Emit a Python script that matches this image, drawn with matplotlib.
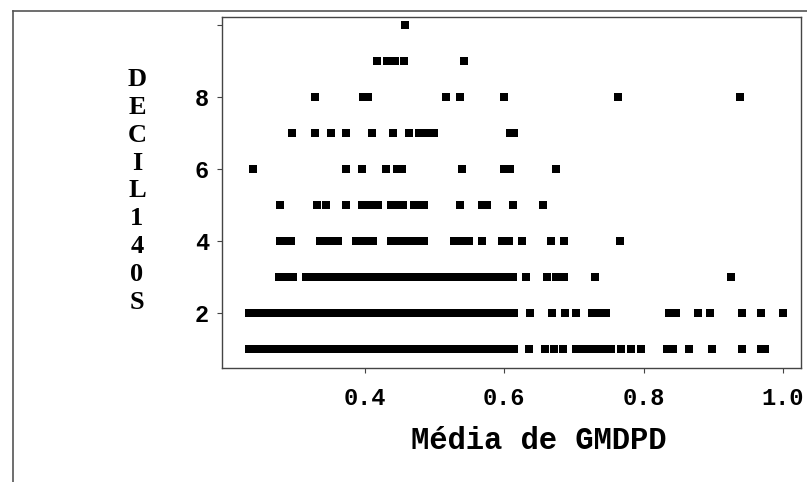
import matplotlib
matplotlib.use("Agg")
import matplotlib.pyplot as plt
from matplotlib.lines import Line2D

# DECIL140S levels against the observed GMDPD means for each level
decil_1 = [0.234, 0.244, 0.254, 0.264, 0.274, 0.284, 0.294, 0.304, 0.314, 0.324,
           0.334, 0.344, 0.354, 0.364, 0.374, 0.384, 0.394, 0.404, 0.414, 0.424,
           0.434, 0.444, 0.454, 0.464, 0.474, 0.484, 0.494, 0.504, 0.514, 0.524,
           0.534, 0.544, 0.554, 0.564, 0.574, 0.584, 0.594, 0.604, 0.614,
           0.635, 0.658, 0.672, 0.684, 0.703, 0.713, 0.723, 0.733, 0.743, 0.753,
           0.767, 0.782, 0.796, 0.833, 0.843, 0.865, 0.898, 0.942, 0.968, 0.974]
decil_2 = [0.234, 0.244, 0.254, 0.264, 0.274, 0.284, 0.294, 0.304, 0.314, 0.324,
           0.334, 0.344, 0.354, 0.364, 0.374, 0.384, 0.394, 0.404, 0.414, 0.424,
           0.434, 0.444, 0.454, 0.464, 0.474, 0.484, 0.494, 0.504, 0.514, 0.524,
           0.534, 0.544, 0.554, 0.564, 0.574, 0.584, 0.594, 0.604, 0.614,
           0.637, 0.668, 0.688, 0.703, 0.726, 0.737, 0.746, 0.836, 0.846, 0.878,
           0.896, 0.942, 0.968, 1.000]
decil_3 = [0.277, 0.288, 0.297, 0.315, 0.325, 0.335, 0.345, 0.355, 0.365, 0.375,
           0.385, 0.395, 0.405, 0.415, 0.425, 0.435, 0.445, 0.455, 0.465, 0.475,
           0.485, 0.495, 0.505, 0.515, 0.525, 0.535, 0.545, 0.555, 0.565, 0.575,
           0.585, 0.595, 0.605, 0.612, 0.631, 0.661, 0.674, 0.686, 0.731, 0.926]
decil_4 = [0.278, 0.286, 0.294, 0.335, 0.344, 0.352, 0.361, 0.387, 0.396, 0.404,
           0.412, 0.437, 0.445, 0.453, 0.461, 0.469, 0.477, 0.485, 0.528, 0.536,
           0.543, 0.549, 0.568, 0.597, 0.607, 0.625, 0.667, 0.686, 0.766]
decil_5 = [0.278, 0.331, 0.344, 0.373, 0.396, 0.405, 0.414, 0.419, 0.437, 0.446,
           0.455, 0.470, 0.478, 0.485, 0.536, 0.568, 0.576, 0.612, 0.655]
decil_6 = [0.239, 0.373, 0.396, 0.431, 0.446, 0.453, 0.540, 0.600, 0.608, 0.674]
decil_7 = [0.295, 0.328, 0.351, 0.373, 0.410, 0.440, 0.463, 0.478, 0.489, 0.499,
           0.608, 0.614]
decil_8 = [0.328, 0.398, 0.404, 0.517, 0.536, 0.600, 0.763, 0.939]
decil_9 = [0.418, 0.432, 0.444, 0.456, 0.542]
decil_10 = [0.457]

groups = [decil_1, decil_2, decil_3, decil_4, decil_5,
          decil_6, decil_7, decil_8, decil_9, decil_10]

x_ticks = [0.4, 0.6, 0.8, 1.0]
x_ticklabels = ["0.4", "0.6", "0.8", "1.0"]
y_ticks = [2, 4, 6, 8, 10]
y_ticklabels = ["2", "4", "6", "8", ""]

mono = ["Liberation Mono", "DejaVu Sans Mono"]
serif = ["Liberation Serif", "DejaVu Serif"]

fig = plt.figure(figsize=(8.07, 4.82), dpi=100)
ax = fig.add_axes([222 / 807, 1 - 368 / 482, 579 / 807, 351 / 482])

for level, xs in enumerate(groups, start=1):
    ax.scatter(xs, [level] * len(xs), marker="s", s=34, c="black",
               linewidths=0, zorder=3)

ax.set_xlim(0.195, 1.026)
ax.set_ylim(0.47, 10.22)
ax.set_xticks(x_ticks)
ax.set_xticklabels(x_ticklabels)
ax.set_yticks(y_ticks)
ax.set_yticklabels(y_ticklabels)
ax.tick_params(direction="out", length=3.5, width=0.8, color="#444444")
ax.tick_params(axis="x", pad=10)
ax.tick_params(axis="y", pad=6)
for lab in ax.get_xticklabels() + ax.get_yticklabels():
    lab.set_family(mono)
    lab.set_fontweight("bold")
    lab.set_fontsize(17)
for sp in ax.spines.values():
    sp.set_color("#444444")
    sp.set_linewidth(1.0)

# axis titles
fig.text(539 / 807, 1 - 441 / 482, "Média de GMDPD", family=mono,
         fontweight="bold", fontsize=22, ha="center", va="center")
fig.text(137 / 807, 1 - 191 / 482, "\n".join("DECIL140S"), family=serif,
         fontweight="bold", fontsize=19, ha="center", va="center",
         linespacing=1.27)

# outer frame around the plot region
fig.add_artist(Line2D([13 / 807, 1.0], [1 - 11 / 482, 1 - 11 / 482],
                      color="#555555", lw=1.2))
fig.add_artist(Line2D([13 / 807, 13 / 807], [0.0, 1 - 11 / 482],
                      color="#555555", lw=1.2))

fig.savefig("out.png", dpi=100)
